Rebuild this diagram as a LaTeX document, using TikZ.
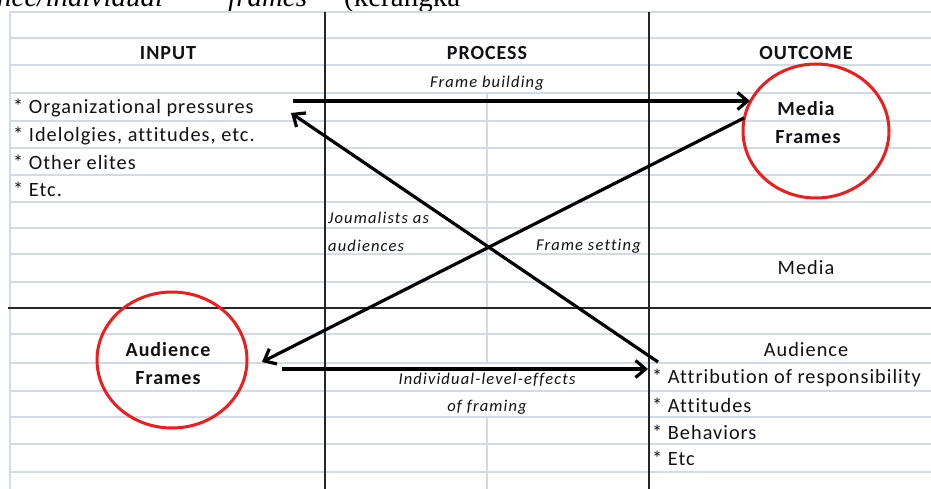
\documentclass[tikz,border=0pt]{standalone}
\usepackage{fontspec}
\setmainfont{Carlito}
\newfontfamily\calr[LetterSpace=5,Ligatures={NoCommon}]{Carlito}
\newfontfamily\cali[LetterSpace=7,Ligatures={NoCommon}]{Carlito}
\newfontfamily\seriff{Liberation Serif}
\usetikzlibrary{arrows.meta,shapes.geometric}
\definecolor{gridc}{HTML}{D3DAE7}
\definecolor{txt}{HTML}{101018}
\definecolor{circ}{HTML}{EE1D1D}
\begin{document}
\begin{tikzpicture}[x=1pt,y=-1pt,
 gridline/.style={draw=gridc, line width=1.6pt},
 darkline/.style={draw=black!85, line width=1.3pt},
 body/.style={font=\calr\fontsize{20.3}{24}\selectfont, text=txt, inner sep=0pt},
 head/.style={font=\calr\bfseries\fontsize{20}{24}\selectfont, text=txt, inner sep=0pt},
 lab/.style={font=\cali\itshape\fontsize{16.5}{19}\selectfont, text=txt, inner sep=0pt},
 toptext/.style={font=\seriff\fontsize{29}{34}\selectfont, text=black, inner sep=0pt, anchor=base west},
 ring/.style={ellipse, draw=circ, line width=3pt, inner sep=0pt},
 conn/.style={draw=black, line width=3.2pt, -{Straight Barb[length=10pt,width=17pt]}}]
\useasboundingbox (0,0) rectangle (931,489);
\clip (0,0) rectangle (931,489);
\fill[white] (0,0) rectangle (931,489);
% clipped text of the page above
\node[toptext] (t1) at (-3,6.5) {\itshape nce/individual};
\node[toptext] (t2) at (228,6.5) {\itshape frames};
\node[toptext] (t3) at (344,6.5) {(kerangka};
% spreadsheet grid
\foreach \yy in {12,38,65,93,121,148,175,202,228,254,282,334,363,391,417,444,472}
  \draw[gridline] (10,\yy) -- (931,\yy);
\draw[gridline] (10,12) -- (10,489);
\draw[gridline] (487,93) -- (487,363);
\draw[gridline] (487,417) -- (487,489);
\draw[darkline] (325,12) -- (325,489);
\draw[darkline] (649,12) -- (649,489);
\draw[darkline] (8,308) -- (931,308);
% headers
\node[head] (hin) at (168,53) {INPUT};
\node[head] (hpr) at (487,53) {PROCESS};
\node[head] (hout) at (806,53) {OUTCOME};
% input list
\node[body, anchor=west] (in1) at (13,108) {* Organizational pressures};
\node[body, anchor=west] (in2) at (13,136) {* Idelolgies, attitudes, etc.};
\node[body, anchor=west] (in3) at (13,162) {* Other elites};
\node[body, anchor=west] (in4) at (13,189) {* Etc.};
% outcome
\node[body] (med) at (806,268) {Media};
\node[body] (aud) at (806,350) {Audience};
\node[body, anchor=west] (out1) at (652,378) {* Attribution of responsibility};
\node[body, anchor=west] (out2) at (652,405) {* Attitudes};
\node[body, anchor=west] (out3) at (652,432) {* Behaviors};
\node[body, anchor=west] (out4) at (652,458) {* Etc};
% process labels
\node[lab] (lfb) at (487,83) {Frame building};
\node[lab, anchor=west] (lja1) at (328,218) {Joumalists as};
\node[lab, anchor=west] (lja2) at (328,246) {audiences};
\node[lab, anchor=east] (lfs) at (641,246) {Frame setting};
\node[lab] (lie1) at (487,380) {Individual-level-effects};
\node[lab] (lie2) at (487,407) {of framing};
% circles
\node[ring, minimum width=146pt, minimum height=134pt] (mfc) at (816,131) {};
\node[head] (mf1) at (806,109) {Media};
\node[head] (mf2) at (808,137) {Frames};
\node[ring, minimum width=150pt, minimum height=136pt] (afc) at (172,360) {};
\node[head] (af1) at (168,350) {Audience};
\node[head] (af2) at (168,378) {Frames};
% connector end points
\coordinate (fbS) at (293,101);
\coordinate (fbE) at (750,101);
\coordinate (jaS) at (658,362);
\coordinate (jaE) at (291,113);
\coordinate (fsS) at (744,118);
\coordinate (fsE) at (262,362);
\coordinate (ieS) at (282,369);
\coordinate (ieE) at (648,369);
\draw[conn] (fbS) -- (fbE);
\draw[conn] (jaS) -- (jaE);
\draw[conn] (fsS) -- (fsE);
\draw[conn] (ieS) -- (ieE);
\end{tikzpicture}
\end{document}
